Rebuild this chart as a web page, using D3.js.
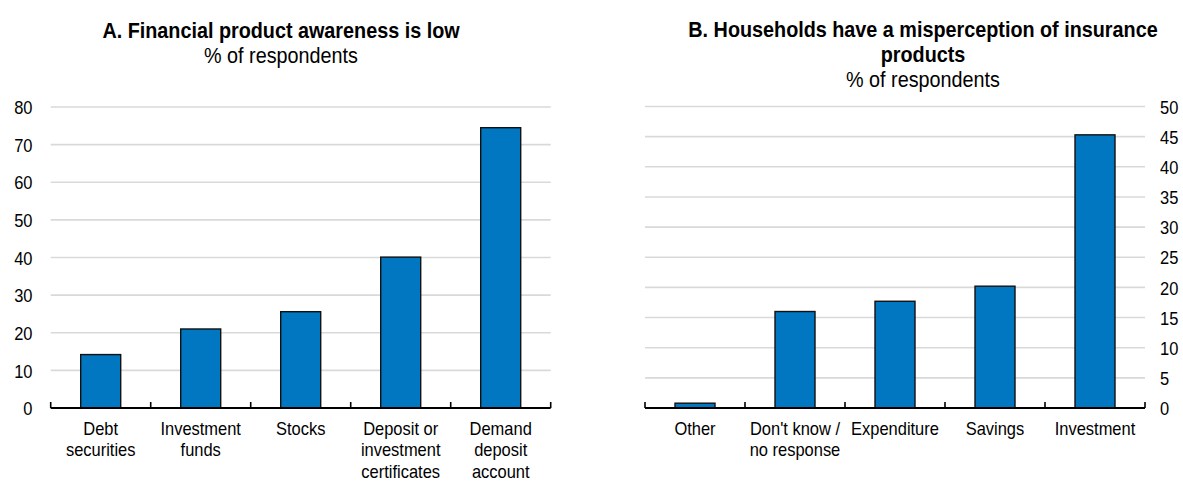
<!DOCTYPE html>
<html>
<head>
<meta charset="utf-8">
<script src="https://cdn.jsdelivr.net/npm/d3@7"></script>
<style>
  html, body { margin: 0; padding: 0; background: #fff; }
  svg { display: block; }
  text { font-family: "Liberation Sans Narrow", "Arial Narrow", "Liberation Sans", Arial, sans-serif; fill: #000; }
</style>
</head>
<body>
<svg id="chart" width="1183" height="482"></svg>
<script>
// ---- Data ----
const categoriesA = ["Debt\nsecurities", "Investment\nfunds", "Stocks", "Deposit or\ninvestment\ncertificates", "Demand\ndeposit\naccount"];
const valuesA = [14.2, 21.0, 25.6, 40.1, 74.5];
const ticksA = [0, 10, 20, 30, 40, 50, 60, 70, 80];

const categoriesB = ["Other", "Don't know /\nno response", "Expenditure", "Savings", "Investment"];
const valuesB = [0.8, 16.0, 17.7, 20.2, 45.3];
const ticksB = [0, 5, 10, 15, 20, 25, 30, 35, 40, 45, 50];

const titleA = ["A. Financial product awareness is low"];
const titleB = ["B. Households have a misperception of insurance", "products"];
const subtitle = "% of respondents";

// ---- Drawing ----
const svg = d3.select("#chart");
const BAR = "#0077c0";
const SQUEEZE = 0.89;   // narrow-font look
const LABEL_SIZE = "18.5px";
const TITLE_SQUEEZE = 0.9;

function squeezeAbout(cx, s) {
  return `translate(${cx},0) scale(${s},1) translate(${-cx},0)`;
}

function panel(cfg) {
  const g = svg.append("g");
  const x = d3.scaleBand().domain(cfg.categories).range(cfg.xRange).paddingInner(0.6).paddingOuter(0.3);
  const y = d3.scaleLinear().domain([0, cfg.max]).range(cfg.yRange);

  // gridlines
  g.append("g").selectAll("line").data(cfg.ticks.filter(t => t > 0)).join("line")
    .attr("x1", cfg.xRange[0]).attr("x2", cfg.xRange[1])
    .attr("y1", d => y(d)).attr("y2", d => y(d))
    .attr("stroke", "#d9d9d9").attr("stroke-width", 1.6);

  // y axis labels
  const yAxis = (cfg.side === "left" ? d3.axisLeft(y) : d3.axisRight(y))
    .tickValues(cfg.ticks).tickSize(0).tickPadding(0);
  const ya = g.append("g")
    .attr("transform", `translate(${cfg.labelX},0)`)
    .call(yAxis);
  ya.select(".domain").remove();
  ya.selectAll("text").style("font-size", LABEL_SIZE).attr("dy", "0.36em")
    .attr("x", 0).attr("transform", `scale(${SQUEEZE},1)`);

  // bars
  g.append("g").selectAll("rect").data(cfg.values).join("rect")
    .attr("x", (d, i) => x(cfg.categories[i]))
    .attr("width", x.bandwidth())
    .attr("y", d => y(d))
    .attr("height", d => y(0) - y(d))
    .attr("fill", BAR).attr("stroke", "#111").attr("stroke-width", 1.4);

  // x axis line + ticks at band boundaries
  const step = x.step();
  const bounds = d3.range(cfg.categories.length + 1).map(i => cfg.xRange[0] + i * step);
  g.append("line")
    .attr("x1", cfg.xRange[0]).attr("x2", cfg.xRange[1])
    .attr("y1", y(0)).attr("y2", y(0))
    .attr("stroke", "#000").attr("stroke-width", 1.8);
  g.append("g").selectAll("line").data(bounds).join("line")
    .attr("x1", d => d).attr("x2", d => d)
    .attr("y1", y(0)).attr("y2", y(0) - 6)
    .attr("stroke", "#000").attr("stroke-width", 1.6);

  // x labels
  const lab = g.append("g").selectAll("text").data(cfg.categories).join("text")
    .attr("text-anchor", "middle")
    .style("font-size", LABEL_SIZE)
    .attr("x", d => x(d) + x.bandwidth() / 2)
    .attr("y", y(0) + 27)
    .attr("transform", d => squeezeAbout(x(d) + x.bandwidth() / 2, SQUEEZE));
  lab.each(function(d) {
    const t = d3.select(this);
    d.split("\n").forEach((line, i) => {
      t.append("tspan").attr("x", t.attr("x")).attr("dy", i === 0 ? 0 : 21.5).text(line);
    });
  });

  // titles
  const tg = g.append("g").attr("transform", squeezeAbout(cfg.titleX, TITLE_SQUEEZE));
  cfg.title.forEach((line, i) => {
    tg.append("text").attr("x", cfg.titleX).attr("y", cfg.titleY + i * 24.8)
      .attr("text-anchor", "middle").style("font-size", "22px").style("font-weight", "bold").text(line);
  });
  tg.append("text").attr("x", cfg.titleX).attr("y", cfg.titleY + cfg.title.length * 24.8)
    .attr("text-anchor", "middle").style("font-size", "22px").text(subtitle);
}

panel({
  categories: categoriesA, values: valuesA, ticks: ticksA, max: 80,
  xRange: [50.7, 550.7], yRange: [408, 107], side: "left", labelX: 32.5,
  title: titleA, titleX: 281, titleY: 38.5
});
panel({
  categories: categoriesB, values: valuesB, ticks: ticksB, max: 50,
  xRange: [645, 1145], yRange: [408, 106.5], side: "right", labelX: 1160,
  title: titleB, titleX: 923, titleY: 37.5
});
</script>
</body>
</html>
